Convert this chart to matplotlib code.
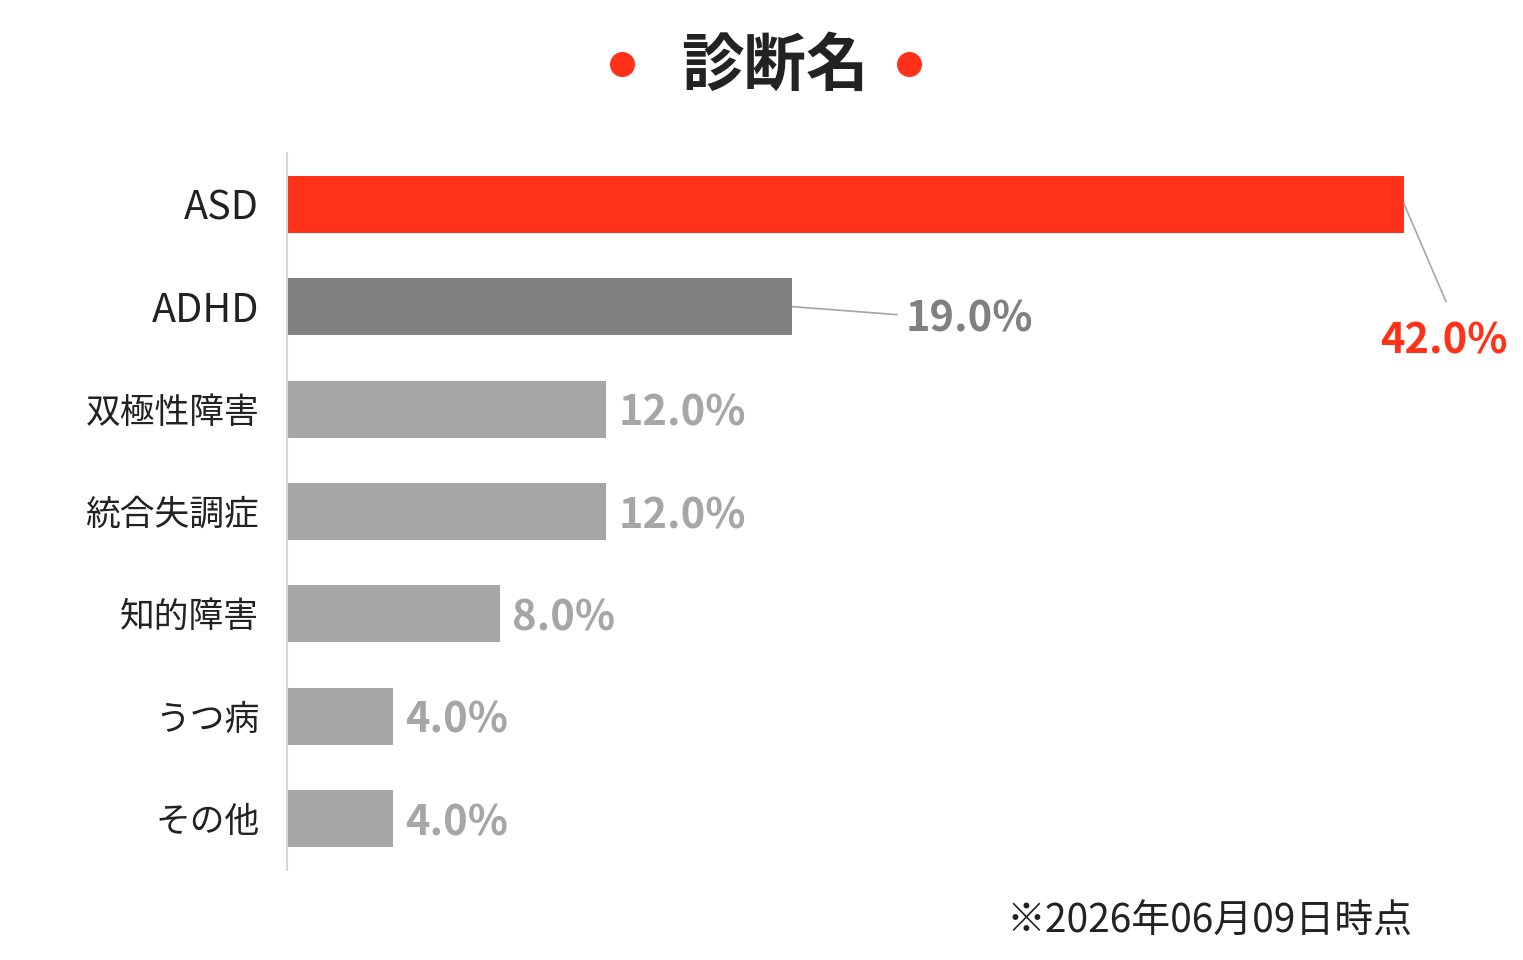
import matplotlib.pyplot as plt
from matplotlib.lines import Line2D

plt.rcParams['font.family'] = ['Noto Sans CJK JP', 'DejaVu Sans']

# データ
categories = ['ASD', 'ADHD', '双極性障害', '統合失調症', '知的障害', 'うつ病', 'その他']
values = [42.0, 19.0, 12.0, 12.0, 8.0, 4.0, 4.0]
bar_colors = ['#ff3118', '#808080', '#a6a6a6', '#a6a6a6', '#a6a6a6', '#a6a6a6', '#a6a6a6']
label_colors = ['#ff3118', '#808080', '#a6a6a6', '#a6a6a6', '#a6a6a6', '#a6a6a6', '#a6a6a6']

W, H = 1523, 960
fig = plt.figure(figsize=(W / 100, H / 100), dpi=100)
fig.patch.set_facecolor('white')

ax = fig.add_axes([287 / W, 1 - 870 / H, (W - 287) / W, 717 / H])
y = list(range(len(categories)))
ax.barh(y, values, height=0.557, color=bar_colors)
ax.set_ylim(len(categories) - 0.5, -0.5)
ax.set_xlim(0, (W - 287) / 26.6)

ax.set_yticks(y)
ax.set_yticklabels(categories, fontsize=25, color='#222222')
for lbl in ax.get_yticklabels():
    if lbl.get_text() in ('ASD', 'ADHD'):
        lbl.set_fontsize(28.5)
ax.tick_params(axis='y', length=0, pad=20)
ax.set_xticks([])
for s in ['top', 'right', 'bottom']:
    ax.spines[s].set_visible(False)
ax.spines['left'].set_color('#d9d9d9')
ax.spines['left'].set_linewidth(1.5)

# 値ラベル
for i, v in enumerate(values):
    txt = f'{v:.1f}%'
    if i == 0:
        ax.plot([v, 43.57], [0, 0.95], color='#a6a6a6', lw=1.2)
        ax.text(43.5, 1.34, txt, ha='center', va='center', fontsize=30,
                fontweight='bold', color=label_colors[i])
    elif i == 1:
        ax.plot([v, 22.93], [1, 1.078], color='#a6a6a6', lw=1.2)
        ax.text(23.25, 1.125, txt, ha='left', va='center', fontsize=30,
                fontweight='bold', color=label_colors[i])
    else:
        ax.text(v + 0.45, i + 0.045, txt, ha='left', va='center', fontsize=30,
                fontweight='bold', color=label_colors[i])

# タイトル
fig.text(775 / W, 1 - 66 / H, '診断名', ha='center', va='center', fontsize=45,
         fontweight='bold', color='#222222')
for xd in [622, 909]:
    fig.add_artist(Line2D([xd / W], [1 - 64 / H], marker='o', markersize=17,
                          color='#ff3118', transform=fig.transFigure))

# 注記
fig.text(1413 / W, 1 - 922 / H, '※2026年06月09日時点', ha='right', va='center',
         fontsize=28, color='#222222')

fig.savefig('out.png', dpi=100)
